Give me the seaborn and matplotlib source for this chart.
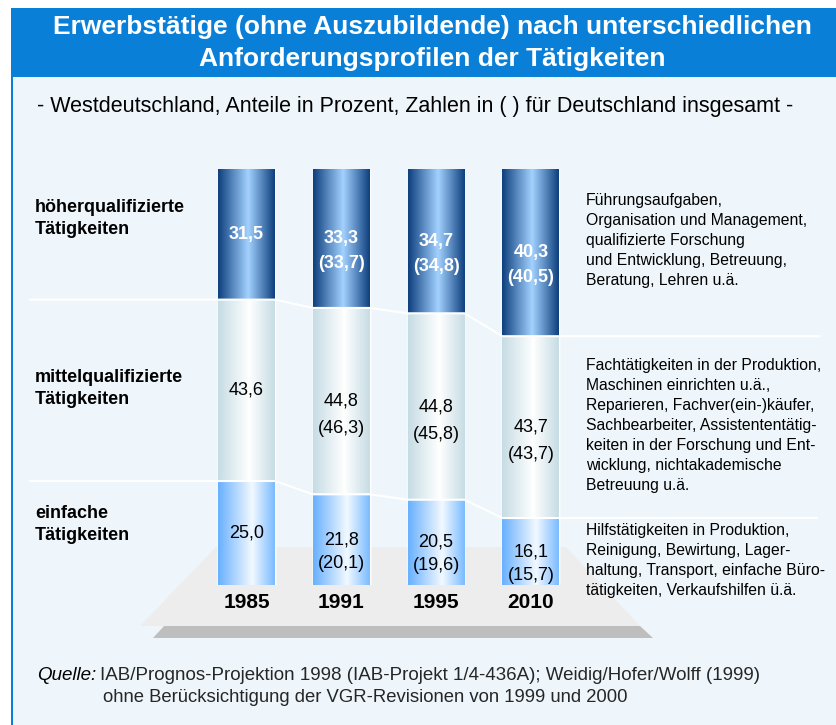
import numpy as np
import pandas as pd
import matplotlib
matplotlib.use("Agg")
import matplotlib.pyplot as plt
import seaborn as sns
from matplotlib.colors import LinearSegmentedColormap
from matplotlib.patches import Rectangle, Polygon

# Data (West Germany, shares in percent; Germany total in brackets)
years = ["1985", "1991", "1995", "2010"]
high_west = [31.5, 33.3, 34.7, 40.3]
mid_west = [43.6, 44.8, 44.8, 43.7]
low_west = [25.0, 21.8, 20.5, 16.1]
high_de = [None, 33.7, 34.8, 40.5]
mid_de = [None, 46.3, 45.8, 43.7]
low_de = [None, 20.1, 19.6, 15.7]

group_labels = [
    ["höherqualifizierte", "Tätigkeiten"],
    ["mittelqualifizierte", "Tätigkeiten"],
    ["einfache", "Tätigkeiten"],
]
group_notes = [
    ["Führungsaufgaben,", "Organisation und Management,", "qualifizierte Forschung",
     "und Entwicklung, Betreuung,", "Beratung, Lehren u.ä."],
    ["Fachtätigkeiten in der Produktion,", "Maschinen einrichten u.ä.,",
     "Reparieren, Fachver(ein-)käufer,", "Sachbearbeiter, Assistententätig-",
     "keiten in der Forschung und Ent-", "wicklung, nichtakademische", "Betreuung u.ä."],
    ["Hilfstätigkeiten in Produktion,", "Reinigung, Bewirtung, Lager-",
     "haltung, Transport, einfache Büro-", "tätigkeiten, Verkaufshilfen ü.ä."],
]

title_lines = ["Erwerbstätige (ohne Auszubildende) nach unterschiedlichen",
               "Anforderungsprofilen der Tätigkeiten"]
subtitle = "- Westdeutschland, Anteile in Prozent, Zahlen in ( ) für Deutschland insgesamt -"
source_1 = "IAB/Prognos-Projektion 1998 (IAB-Projekt 1/4-436A); Weidig/Hofer/Wolff (1999)"
source_2 = "ohne Berücksichtigung der VGR-Revisionen von 1999 und 2000"

HEADER_BLUE = "#0A7FD8"
PANEL = "#EEF6FB"

sns.set_theme(style="white")
plt.rcParams["font.family"] = ["Liberation Sans", "DejaVu Sans"]

fig = plt.figure(figsize=(8.37, 7.25), dpi=100)
fig.patch.set_facecolor("white")

# background canvas in pixel units
bg = fig.add_axes([0, 0, 1, 1])
bg.set_xlim(0, 837)
bg.set_ylim(725, 0)
bg.axis("off")
bg.add_patch(Rectangle((12, 77), 825, 648, color=PANEL, lw=0))
bg.add_patch(Rectangle((12, 8), 825, 69, color=HEADER_BLUE, lw=0))
bg.add_patch(Rectangle((11, 8), 2.5, 717, color=HEADER_BLUE, lw=0))
# floor under the columns
bg.add_patch(Polygon([(216, 547), (566, 547), (640, 626), (140, 626)],
                     closed=True, color="#EDEDED", lw=0))
bg.add_patch(Polygon([(164, 626), (640, 626), (653, 638), (153, 638)],
                     closed=True, color="#BEBEBE", lw=0))

for k, line in enumerate(title_lines):
    bg.text(432, 27 + 32 * k, line, ha="center", va="center", color="white",
            fontsize=19, fontweight="bold")
bg.text(37, 106, subtitle, ha="left", va="center", color="black", fontsize=15.5)

for lines, y0 in zip(group_labels, [207, 377, 513]):
    for k, line in enumerate(lines):
        bg.text(35, y0 + 22 * k, line, ha="left", va="center",
                fontsize=13, fontweight="bold", color="black")

for lines, y0 in zip(group_notes, [200, 365, 530]):
    for k, line in enumerate(lines):
        bg.text(586, y0 + 20 * k, line, ha="left", va="center",
                fontsize=11.3, color="black")

q = bg.text(37, 684, "Quelle:", ha="left", va="bottom", fontsize=13.5,
            fontstyle="italic", color="black")
bg.annotate(source_1, xy=(1, 0), xycoords=q, xytext=(3, 0),
            textcoords="offset points", ha="left", va="bottom", fontsize=13.5)
bg.text(103, 698, source_2, ha="left", va="center", fontsize=13.3)

# stacked columns
df = pd.DataFrame({"year": years, "low": low_west, "mid": mid_west, "high": high_west})
df["low_mid"] = df["low"] + df["mid"]
df["total"] = df["low_mid"] + df["high"]

ax = fig.add_axes([199.2 / 837, 1 - 585 / 725, 379 / 837, 416 / 725])
ax.patch.set_alpha(0)

layers = [
    ("total", [(0, "#0E3F7E"), (0.53, "#A3D2FF"), (1, "#0E3F7E")]),
    ("low_mid", [(0, "#C6DCE4"), (0.55, "#FFFFFF"), (1, "#C6DCE4")]),
    ("low", [(0, "#68B0FF"), (0.6, "#F2F9FF"), (1, "#7ABBFF")]),
]
grad = np.linspace(0, 1, 256).reshape(1, -1)
for li, (col, stops) in enumerate(layers):
    n0 = len(ax.patches)
    sns.barplot(data=df, x="year", y=col, width=0.6, color=stops[0][1],
                saturation=1, ax=ax, zorder=2 + 2 * li)
    cmap = LinearSegmentedColormap.from_list(col, stops)
    for p in ax.patches[n0:]:
        x0, y0 = p.get_x(), p.get_y()
        im = ax.imshow(grad, cmap=cmap, aspect="auto", interpolation="bicubic",
                       extent=[x0, x0 + p.get_width(), y0, y0 + p.get_height()],
                       zorder=3 + 2 * li)
        im.set_clip_path(p)

ax.set_xlim(-0.5, 3.5)
ax.set_ylim(0, 100)
ax.axis("off")

# white connector lines between the segment boundaries
for bound, x_right in [(df["low"].tolist(), 6.02), (df["low_mid"].tolist(), 6.05)]:
    xs = [-2.29]
    ys = [bound[0]]
    for i, b in enumerate(bound):
        xs += [i - 0.3, i + 0.3]
        ys += [b, b]
    xs.append(x_right)
    ys.append(bound[-1])
    ax.plot(xs, ys, color="white", lw=1.5, zorder=10, clip_on=False)


def fmt(v):
    return f"{v:.1f}".replace(".", ",")


for i in range(len(years)):
    segs = [
        (df["low"][i] / 2, low_west[i], low_de[i], "black", "normal", -17),
        (df["low"][i] + mid_west[i] / 2, mid_west[i], mid_de[i], "black", "normal", -20),
        (df["low_mid"][i] + high_west[i] / 2, high_west[i], high_de[i], "white", "bold", -18),
    ]
    for yc, v, v_de, c, w, off in segs:
        ax.text(i, yc, fmt(v), ha="center", va="center", color=c,
                fontsize=13, fontweight=w, zorder=12)
        if v_de is not None:
            ax.annotate(f"({fmt(v_de)})", xy=(i, yc), xytext=(0, off),
                        textcoords="offset points", ha="center", va="center",
                        color=c, fontsize=13, fontweight=w, zorder=12)
    ax.text(i, -4.1, years[i], ha="center", va="center", fontsize=15,
            fontweight="bold", color="black", clip_on=False)

fig.savefig("out.png", dpi=100)
